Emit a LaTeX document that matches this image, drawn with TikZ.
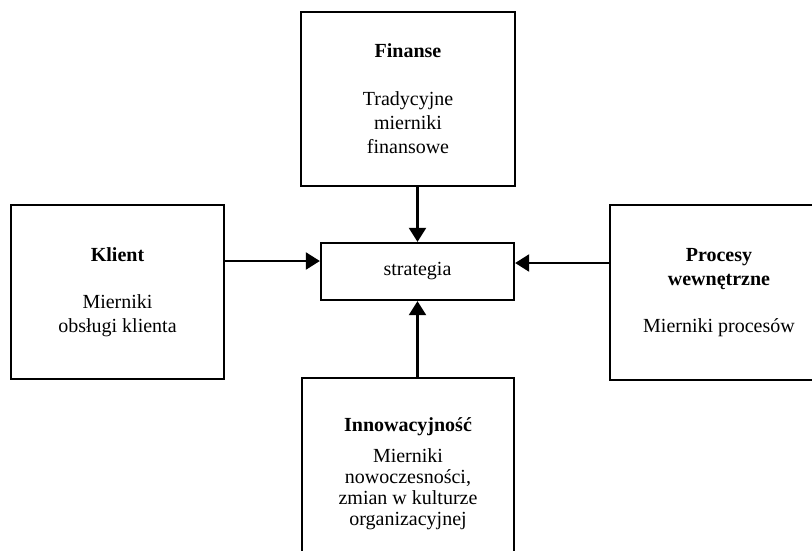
\documentclass[tikz,border=0pt]{standalone}
\usepackage{fontspec}
\setmainfont{Liberation Serif}
\usepackage{tikz}
\usetikzlibrary{arrows.meta,positioning,calc}

\begin{document}
\begin{tikzpicture}[
    x=1pt, y=-1pt,
    box/.style={rectangle, draw=black, line width=2.3pt, align=center, inner sep=0pt,
        font=\fontsize{20}{24}\selectfont},
    bigbox/.style={box, minimum width=214pt, minimum height=174pt},
    stratbox/.style={box, minimum width=193pt, minimum height=57pt},
    leadarrow/.style={-{Triangle[length=14pt,width=17pt]}, line width=2.3pt, color=black}
]
    \useasboundingbox (0,0) rectangle (812,550);
    \clip (0,0) rectangle (812,550);

    % Centre node
    \node[stratbox] (STR) at (417.5, 271.5) {strategia};

    % Finanse
    \node[bigbox] (FIN) at (408, 99) {
        \textbf{Finanse}\\[24pt]
        Tradycyjne\\
        mierniki\\
        finansowe
    };

    % Klient
    \node[bigbox, minimum width=213pt] (KLI) at (117.5, 292) {
        \textbf{Klient}\\[23pt]
        Mierniki\\
        obsługi klienta
    };

    % Procesy wewnetrzne
    \node[bigbox, minimum width=218pt, minimum height=175pt] (PRO) at (719, 292.5) {
        \textbf{Procesy}\\
        \textbf{wewnętrzne}\\[23pt]
        Mierniki procesów
    };

    % Innowacyjnosc
    \node[bigbox, minimum width=212pt, minimum height=191pt,
        font=\fontsize{20}{21}\selectfont] (INN) at (408, 473.5) {
        \textbf{Innowacyjność}\\[10pt]
        Mierniki\\
        nowoczesności,\\
        zmian w kulturze\\
        organizacyjnej
    };

    \draw[leadarrow] (STR.north |- FIN.south) -- (STR.north);
    \draw[leadarrow] (STR.south |- INN.north) -- (STR.south);
    \draw[leadarrow] ([yshift=31pt]KLI.east) -- ([yshift=31pt]KLI.east -| STR.west);
    \draw[leadarrow] ([yshift=29.5pt]PRO.west) -- ([yshift=29.5pt]PRO.west -| STR.east);
\end{tikzpicture}
\end{document}
